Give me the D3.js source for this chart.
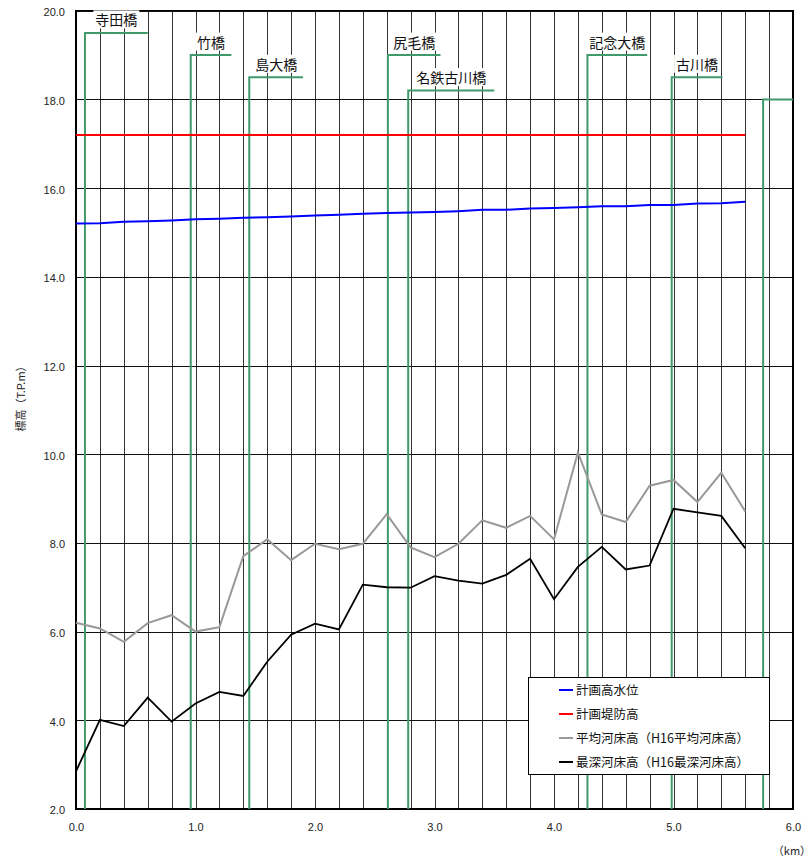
<!DOCTYPE html>
<html lang="ja">
<head>
<meta charset="utf-8">
<script src="https://cdn.jsdelivr.net/npm/d3@7"></script>
<style>
  body { margin: 0; background: #fff; }
  #chart { width: 811px; height: 860px; }
</style>
</head>
<body>
<div id="chart"></div>
<script>
// 距離標 (km)
const km = [0.0, 0.2, 0.4, 0.6, 0.8, 1.0, 1.2, 1.4, 1.6, 1.8, 2.0, 2.2, 2.4, 2.6, 2.8,
  3.0, 3.2, 3.4, 3.6, 3.8, 4.0, 4.2, 4.4, 4.6, 4.8, 5.0, 5.2, 5.4, 5.6];
// 計画高水位
const planWater = [15.20, 15.21, 15.24, 15.25, 15.27, 15.30, 15.31, 15.33, 15.34, 15.36, 15.38,
  15.40, 15.42, 15.44, 15.45, 15.46, 15.48, 15.51, 15.51, 15.54, 15.55, 15.57, 15.59, 15.59,
  15.62, 15.62, 15.65, 15.66, 15.69];
// 計画堤防高
const leveeKm = [0.0, 5.6];
const leveeHeight = [17.2, 17.2];
// 平均河床高
const avgBed = [6.20, 6.07, 5.77, 6.19, 6.37, 6.00, 6.10, 7.70, 8.08, 7.61, 7.98, 7.86, 7.98,
  8.65, 7.90, 7.68, 7.98, 8.51, 8.34, 8.61, 8.08, 10.04, 8.64, 8.47, 9.29, 9.42, 8.92, 9.58, 8.71];
// 最深河床高
const deepBed = [2.85, 4.01, 3.87, 4.51, 3.97, 4.38, 4.64, 4.55, 5.32, 5.93, 6.18, 6.05, 7.06,
  7.00, 6.99, 7.25, 7.15, 7.08, 7.28, 7.64, 6.73, 7.46, 7.91, 7.40, 7.49, 8.77, 8.69, 8.61, 7.88];

// 橋梁
const bridgeNames = ['寺田橋', '竹橋', '島大橋', '尻毛橋', '名鉄古川橋', '記念大橋', '古川橋', ''];
const bridgeKm = [0.075, 0.96, 1.45, 2.61, 2.78, 4.28, 4.985, 5.75];
const bridgeEndKm = [0.6, 1.3, 1.9, 3.05, 3.5, 4.78, 5.41, 6.0];
const bridgeTop = [19.5, 19.0, 18.5, 19.0, 18.2, 19.0, 18.5, 18.0];

// 目盛
const xTicks = [0, 1, 2, 3, 4, 5, 6];
const yTicks = [2, 4, 6, 8, 10, 12, 14, 16, 18, 20];
const xGrid = [0.2, 0.4, 0.6, 0.8, 1.0, 1.2, 1.4, 1.6, 1.8, 2.0, 2.2, 2.4, 2.6, 2.8, 3.0,
  3.2, 3.4, 3.6, 3.8, 4.0, 4.2, 4.4, 4.6, 4.8, 5.0, 5.2, 5.4, 5.6, 5.8];

// 凡例
const legendLabels = ['計画高水位', '計画堤防高', '平均河床高（H16平均河床高）', '最深河床高（H16最深河床高）'];
const legendColors = ['#0000ff', '#ff0000', '#999999', '#000000'];

class ProfileChart {
  constructor(id) {
    this.id = id;
    this.width = 811;
    this.height = 860;
    this.margin = { top: 10.7, right: 18, bottom: 51, left: 76 };
    this.innerWidth = this.width - this.margin.left - this.margin.right;
    this.innerHeight = this.height - this.margin.top - this.margin.bottom;
    this.jpFont = '"Noto Sans CJK JP", "Noto Sans", sans-serif';
    this.numFont = '"Liberation Sans", Arial, sans-serif';
    this.green = '#3f9a6b';
    this.init();
  }
  init() {
    this.svg = d3.select(`#${this.id}`)
      .append('svg')
      .attr('width', this.width)
      .attr('height', this.height)
      .style('background-color', '#fff');
    this.mg = this.svg.append('g')
      .attr('transform', `translate(${this.margin.left},${this.margin.top})`);
    this.x = d3.scaleLinear().domain([0, 6]).range([0, this.innerWidth]);
    this.y = d3.scaleLinear().domain([2, 20]).range([this.innerHeight, 0]);
    return this;
  }
  render() {
    this.renderGrid();
    this.renderAxes();
    this.renderBridges();
    this.renderLines();
    this.renderLabels();
    this.renderLegend();
    return this;
  }
  renderGrid() {
    const gx = this.mg.append('g')
      .call(d3.axisBottom(this.x).tickValues(xGrid).tickSize(-this.innerHeight).tickFormat(''))
      .attr('transform', `translate(0,${this.innerHeight})`);
    gx.select('.domain').remove();
    gx.selectAll('line').attr('stroke', '#333').attr('shape-rendering', 'crispEdges');

    const gy = this.mg.append('g')
      .call(d3.axisLeft(this.y).tickValues(yTicks).tickSize(-this.innerWidth).tickFormat(''));
    gy.select('.domain').remove();
    gy.selectAll('line').attr('stroke', '#111').attr('shape-rendering', 'crispEdges');

    // 枠
    this.mg.append('rect')
      .attr('width', this.innerWidth)
      .attr('height', this.innerHeight)
      .attr('fill', 'none')
      .attr('stroke', '#000')
      .attr('stroke-width', 1.2)
      .attr('shape-rendering', 'crispEdges');
  }
  renderAxes() {
    const ay = this.mg.append('g')
      .call(d3.axisLeft(this.y).tickValues(yTicks).tickFormat(d3.format('.1f')).tickSize(0).tickPadding(11));
    ay.select('.domain').remove();
    ay.selectAll('text')
      .attr('dy', '0.45em')
      .style('font-family', this.numFont)
      .style('font-size', '11px')
      .attr('fill', '#222');

    const ax = this.mg.append('g')
      .attr('transform', `translate(0,${this.innerHeight})`)
      .call(d3.axisBottom(this.x).tickValues(xTicks).tickFormat(d3.format('.1f')).tickSize(0).tickPadding(14));
    ax.select('.domain').remove();
    ax.selectAll('text')
      .style('font-family', this.numFont)
      .style('font-size', '11px')
      .attr('fill', '#222');

    this.svg.append('text')
      .attr('transform', 'translate(25,396) rotate(-90)')
      .attr('text-anchor', 'middle')
      .style('font-family', this.jpFont)
      .style('font-size', '11px')
      .attr('fill', '#222')
      .text('標高（T.P.m）');

    this.svg.append('text')
      .attr('x', 792)
      .attr('y', 855)
      .attr('text-anchor', 'middle')
      .style('font-family', this.jpFont)
      .style('font-size', '11px')
      .attr('fill', '#222')
      .text('（km）');
  }
  renderBridges() {
    const rows = bridgeNames.map((name, i) => ({ name, km: bridgeKm[i], end: bridgeEndKm[i], top: bridgeTop[i] }));
    this.bridgeGroup = this.mg.append('g');
    this.bridgeGroup.selectAll('path')
      .data(rows)
      .join('path')
      .attr('d', d => `M${this.x(d.km)},${this.y(2)}V${this.y(d.top)}H${this.x(d.end)}`)
      .attr('fill', 'none')
      .attr('stroke', this.green)
      .attr('stroke-width', 2);
    this.bridgeRows = rows;
  }
  renderLines() {
    const line = d3.line().x(d => this.x(d[0])).y(d => this.y(d[1]));
    const series = [
      { pts: d3.zip(leveeKm, leveeHeight), color: legendColors[1], w: 2 },
      { pts: d3.zip(km, planWater), color: legendColors[0], w: 2 },
      { pts: d3.zip(km, avgBed), color: legendColors[2], w: 2 },
      { pts: d3.zip(km, deepBed), color: legendColors[3], w: 1.8 }
    ];
    this.mg.append('g')
      .selectAll('path')
      .data(series)
      .join('path')
      .attr('d', d => line(d.pts))
      .attr('fill', 'none')
      .attr('stroke', d => d.color)
      .attr('stroke-width', d => d.w)
      .attr('stroke-linejoin', 'miter');
  }
  renderLabels() {
    const labels = this.mg.append('g')
      .selectAll('g')
      .data(this.bridgeRows.filter(d => d.name))
      .join('g')
      .attr('transform', d => `translate(${(this.x(d.km) + this.x(d.end)) / 2},${this.y(d.top) - 12.5})`);
    labels.append('text')
      .attr('text-anchor', 'middle')
      .attr('dy', '0.36em')
      .style('font-family', this.jpFont)
      .style('font-size', '14px')
      .attr('fill', '#111')
      .text(d => d.name);
    // 白抜き
    labels.each(function () {
      const g = d3.select(this);
      const b = g.select('text').node().getBBox();
      g.insert('rect', 'text')
        .attr('x', b.x - 2)
        .attr('y', b.y + 1)
        .attr('width', b.width + 4)
        .attr('height', b.height - 2)
        .attr('fill', '#fff');
    });
  }
  renderLegend() {
    const lg = this.svg.append('g').attr('transform', 'translate(528,677)');
    lg.append('rect')
      .attr('width', 241)
      .attr('height', 97)
      .attr('fill', '#fff')
      .attr('stroke', '#000')
      .attr('stroke-width', 1)
      .attr('shape-rendering', 'crispEdges');
    const item = lg.selectAll('g')
      .data(legendLabels)
      .join('g')
      .attr('transform', (d, i) => `translate(0,${13 + i * 24})`);
    item.append('line')
      .attr('x1', 31).attr('x2', 45)
      .attr('stroke', (d, i) => legendColors[i])
      .attr('stroke-width', 2);
    item.append('text')
      .attr('x', 48)
      .attr('dy', '0.36em')
      .style('font-family', this.jpFont)
      .style('font-size', '12.5px')
      .attr('fill', '#111')
      .text(d => d);
  }
}

new ProfileChart('chart').render();
</script>
</body>
</html>
